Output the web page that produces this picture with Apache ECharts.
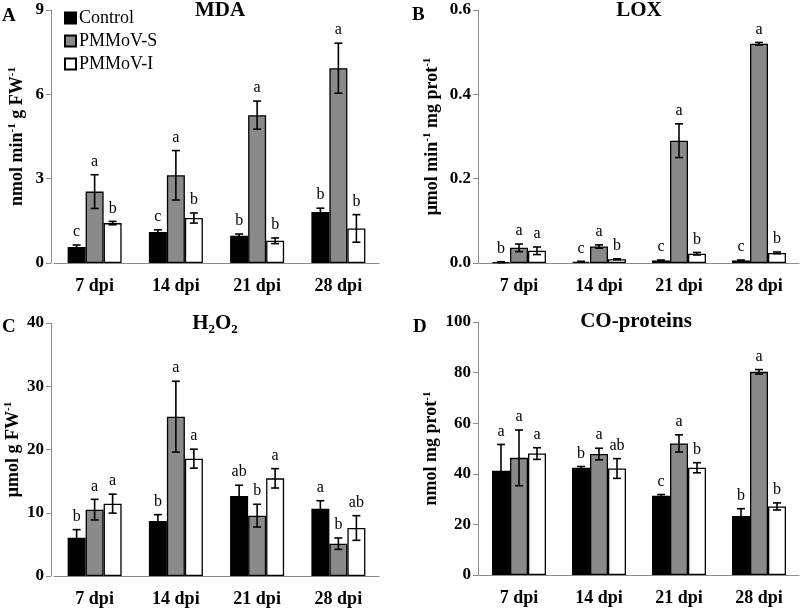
<!DOCTYPE html>
<html>
<head>
<meta charset="utf-8">
<script src="https://cdn.jsdelivr.net/npm/echarts@6/dist/echarts.min.js"></script>
<style>html,body{margin:0;padding:0;background:#fff}#c{width:800px;height:610px}</style>
</head>
<body>
<div id="c"></div>
<script>
const categories = ['7 dpi', '14 dpi', '21 dpi', '28 dpi'];
const seriesNames = ['Control', 'PMMoV-S', 'PMMoV-I'];

// Panel A: MDA
const mdaControl = [0.57, 1.10, 0.97, 1.81];
const mdaS = [2.54, 3.12, 5.26, 6.93];
const mdaI = [1.42, 1.60, 0.79, 1.23];
const mdaControlErr = [0.07, 0.08, 0.06, 0.14];
const mdaSErr = [0.60, 0.88, 0.50, 0.89];
const mdaIErr = [0.06, 0.18, 0.10, 0.49];
const mdaControlLetters = ['c', 'c', 'b', 'b'];
const mdaSLetters = ['a', 'a', 'a', 'a'];
const mdaILetters = ['b', 'b', 'b', 'b'];

// Panel B: LOX
const loxControl = [0.002, 0.003, 0.006, 0.006];
const loxS = [0.036, 0.039, 0.290, 0.520];
const loxI = [0.029, 0.009, 0.022, 0.024];
const loxControlErr = [0.001, 0.001, 0.001, 0.001];
const loxSErr = [0.009, 0.004, 0.040, 0.003];
const loxIErr = [0.009, 0.001, 0.003, 0.002];
const loxControlLetters = ['b', 'c', 'c', 'c'];
const loxSLetters = ['a', 'a', 'a', 'a'];
const loxILetters = ['a', 'b', 'b', 'b'];

// Panel C: H2O2
const h2o2Control = [6.06, 8.7, 12.65, 10.65];
const h2o2S = [10.49, 25.19, 9.54, 5.11];
const h2o2I = [11.44, 18.55, 15.44, 7.59];
const h2o2ControlErr = [1.27, 1.0, 1.7, 1.25];
const h2o2SErr = [1.63, 5.6, 1.8, 0.9];
const h2o2IErr = [1.5, 1.5, 1.53, 1.95];
const h2o2ControlLetters = ['b', 'b', 'ab', 'a'];
const h2o2SLetters = ['a', 'a', 'b', 'b'];
const h2o2ILetters = ['a', 'a', 'a', 'ab'];

// Panel D: CO-proteins
const coControl = [41.2, 42.4, 31.3, 23.3];
const coS = [46.3, 47.8, 52.0, 80.3];
const coI = [48.0, 42.1, 42.4, 27.1];
const coControlErr = [10.4, 0.5, 0.5, 2.9];
const coSErr = [11.0, 2.3, 3.4, 0.9];
const coIErr = [2.3, 3.9, 2.0, 1.4];
const coControlLetters = ['a', 'b', 'c', 'b'];
const coSLetters = ['a', 'a', 'a', 'a'];
const coILetters = ['a', 'ab', 'b', 'b'];

// y-axis ranges
const mdaAxis = [0, 9, 3];
const loxAxis = [0, 0.6, 0.2];
const h2o2Axis = [0, 40, 10];
const coAxis = [0, 100, 20];

const SERIF = '"Liberation Serif", "Times New Roman", serif';
const BAR_W = 18;
const colors = ['#000000', '#8a8a8a', '#ffffff'];
const AXIS_COLOR = '#8c8c8c';

const panels = [
  { vals: [mdaControl, mdaS, mdaI], errs: [mdaControlErr, mdaSErr, mdaIErr],
    letters: [mdaControlLetters, mdaSLetters, mdaILetters], axis: mdaAxis,
    grid: { left: 54, top: 10, width: 325, height: 253 }, yOffset: 3,
    name: 'nmol min{sup|-1} g FW{sup|-1}', nameGap: 24, fmt: v => String(v) },
  { vals: [loxControl, loxS, loxI], errs: [loxControlErr, loxSErr, loxIErr],
    letters: [loxControlLetters, loxSLetters, loxILetters], axis: loxAxis,
    grid: { left: 479, top: 10, width: 320, height: 253 }, yOffset: 1,
    name: 'μmol min{sup|-1} mg prot{sup|-1}', nameGap: 36, fmt: v => v.toFixed(1) },
  { vals: [h2o2Control, h2o2S, h2o2I], errs: [h2o2ControlErr, h2o2SErr, h2o2IErr],
    letters: [h2o2ControlLetters, h2o2SLetters, h2o2ILetters], axis: h2o2Axis,
    grid: { left: 54, top: 323, width: 325, height: 253 }, yOffset: 3,
    name: 'μmol g FW{sup|-1}', nameGap: 27, fmt: v => String(v) },
  { vals: [coControl, coS, coI], errs: [coControlErr, coSErr, coIErr],
    letters: [coControlLetters, coSLetters, coILetters], axis: coAxis,
    grid: { left: 479, top: 322, width: 320, height: 253 }, yOffset: 1,
    name: 'nmol mg prot{sup|-1}', nameGap: 36, fmt: v => String(v) }
];

const grids = [], xAxes = [], yAxes = [], series = [];

panels.forEach((p, pi) => {
  grids.push(Object.assign({ containLabel: false }, p.grid));
  xAxes.push({
    type: 'category', gridIndex: pi, data: categories,
    axisLine: { lineStyle: { color: AXIS_COLOR, width: 1 } },
    axisTick: { show: false },
    axisLabel: { color: '#000', fontFamily: SERIF, fontWeight: 'bold', fontSize: 18, margin: 14 }
  });
  yAxes.push({
    type: 'value', gridIndex: pi, min: p.axis[0], max: p.axis[1], interval: p.axis[2],
    offset: p.yOffset,
    splitLine: { show: false },
    axisLine: { show: true, lineStyle: { color: AXIS_COLOR, width: 1 } },
    axisTick: { show: true, inside: false, length: 5, lineStyle: { color: AXIS_COLOR } },
    axisLabel: { color: '#000', fontFamily: SERIF, fontWeight: 'bold', fontSize: 17, margin: 7,
      formatter: p.fmt },
    name: p.name, nameLocation: 'middle', nameRotate: 90, nameGap: p.nameGap,
    nameTextStyle: {
      color: '#000', fontFamily: SERIF, fontWeight: 'bold', fontSize: 18, lineHeight: 20,
      rich: { sup: { fontFamily: SERIF, fontWeight: 'bold', fontSize: 11, verticalAlign: 'top', lineHeight: 20 } }
    }
  });
  for (let s = 0; s < 3; s++) {
    series.push({
      type: 'bar', name: seriesNames[s], xAxisIndex: pi, yAxisIndex: pi,
      data: p.vals[s], barWidth: BAR_W, barGap: '0%',
      itemStyle: { color: colors[s], borderColor: '#000', borderWidth: 1.3 },
      emphasis: { disabled: true }, z: 2
    });
  }
  for (let s = 0; s < 3; s++) {
    const letters = p.letters[s];
    series.push({
      type: 'custom', xAxisIndex: pi, yAxisIndex: pi, z: 5,
      data: p.vals[s].map((v, i) => [i, v, p.errs[s][i]]),
      encode: { x: 0, y: 1 },
      silent: true,
      renderItem: (params, api) => {
        const c = api.value(0), v = api.value(1), e = api.value(2);
        const top = api.coord([c, v + e]);
        const bot = api.coord([c, Math.max(v - e, 0)]);
        const x = top[0] + (s - 1) * BAR_W;
        const cap = 4;
        const ls = { stroke: '#000', lineWidth: 1.6 };
        return {
          type: 'group',
          children: [
            { type: 'line', shape: { x1: x, y1: top[1], x2: x, y2: bot[1] }, style: ls },
            { type: 'line', shape: { x1: x - cap, y1: top[1], x2: x + cap, y2: top[1] }, style: ls },
            { type: 'line', shape: { x1: x - cap, y1: bot[1], x2: x + cap, y2: bot[1] }, style: ls },
            { type: 'text', style: { text: letters[params.dataIndex], x: x, y: top[1] - 5,
                fill: '#000', font: '16px ' + SERIF, align: 'center', verticalAlign: 'bottom' } }
          ]
        };
      }
    });
  }
});

const titleStyle = { color: '#000', fontFamily: SERIF, fontWeight: 'bold', fontSize: 21 };
const letterStyle = { color: '#000', fontFamily: SERIF, fontWeight: 'bold', fontSize: 19 };

const option = {
  animation: false,
  backgroundColor: '#fff',
  title: [
    { text: 'MDA', left: 220, top: 0, textAlign: 'center', textStyle: titleStyle, padding: 0 },
    { text: 'LOX', left: 639, top: 0, textAlign: 'center', textStyle: titleStyle, padding: 0 },
    { text: 'H{sub|2}O{sub|2}', left: 215, top: 312, textAlign: 'center', padding: 0,
      textStyle: Object.assign({}, titleStyle, { lineHeight: 24, rich: { sub: { fontFamily: SERIF, fontWeight: 'bold', fontSize: 13, verticalAlign: 'bottom', lineHeight: 24 } } }) },
    { text: 'CO-proteins', left: 636, top: 311, textAlign: 'center', textStyle: titleStyle, padding: 0 },
    { text: 'A', left: 2, top: 7, textStyle: letterStyle, padding: 0 },
    { text: 'B', left: 412, top: 6, textStyle: letterStyle, padding: 0 },
    { text: 'C', left: 2, top: 318, textStyle: letterStyle, padding: 0 },
    { text: 'D', left: 413, top: 318, textStyle: letterStyle, padding: 0 }
  ],
  legend: {
    data: seriesNames, orient: 'vertical', left: 64, top: 9, padding: 0,
    icon: 'rect', itemWidth: 11, itemHeight: 11, itemGap: 5,
    textStyle: { color: '#000', fontFamily: SERIF, fontSize: 18, padding: [0, 0, 0, -2] },
    selectedMode: false
  },
  grid: grids, xAxis: xAxes, yAxis: yAxes, series: series
};

const chart = echarts.init(document.getElementById('c'), null, { renderer: 'canvas' });
chart.setOption(option);
</script>
</body>
</html>
